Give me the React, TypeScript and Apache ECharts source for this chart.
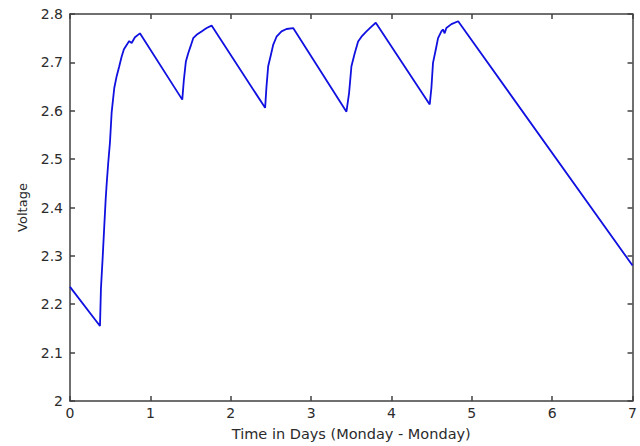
import React, { useEffect, useRef } from "react";
import * as echarts from "echarts";

const days = [
  0, 0.373, 0.385, 0.407, 0.427, 0.444, 0.456, 0.476, 0.497, 0.518, 0.538, 0.551, 0.58, 0.613, 0.643, 0.671,
  0.705, 0.737, 0.767, 0.808, 0.87,
  1.397, 1.417, 1.442, 1.471, 1.5, 1.533, 1.575, 1.637, 1.7, 1.762,
  2.428, 2.445, 2.466, 2.495, 2.528, 2.57, 2.632, 2.694, 2.777,
  3.44, 3.473, 3.502, 3.543, 3.585, 3.627, 3.689, 3.751, 3.805,
  4.476, 4.497, 4.517, 4.551, 4.58, 4.621, 4.641, 4.662, 4.683, 4.746, 4.83,
  7,
];
const volts = [
  2.236, 2.155, 2.232, 2.298, 2.363, 2.417, 2.448, 2.493, 2.534, 2.596, 2.627, 2.647, 2.671, 2.692, 2.712, 2.727,
  2.736, 2.744, 2.74, 2.752, 2.76,
  2.623, 2.664, 2.702, 2.719, 2.733, 2.75, 2.757, 2.764, 2.771, 2.776,
  2.606, 2.65, 2.692, 2.712, 2.736, 2.753, 2.764, 2.769, 2.771,
  2.598, 2.637, 2.692, 2.719, 2.743, 2.753, 2.764, 2.774, 2.782,
  2.613, 2.647, 2.699, 2.726, 2.75, 2.764, 2.768, 2.76, 2.771, 2.779, 2.785,
  2.28,
];
const xTitle = "Time in Days (Monday - Monday)";
const yTitle = "Voltage";

const FONT = "'DejaVu Sans', Verdana, sans-serif";
const AX = "#404040";
const TXT = "#2b2b2b";

export default function App() {
  const ref = useRef<HTMLDivElement>(null);
  useEffect(() => {
    if (!ref.current) return;
    const chart = echarts.init(ref.current, null, { renderer: "svg" });
    const data = days.map((d, i) => [d, volts[i]]);
    const fmt = (v: number) => String(Math.round(v * 10) / 10);
    const baseX = {
      type: "value" as const,
      min: 0,
      max: 7,
      interval: 1,
      axisLine: { show: true, onZero: false, lineStyle: { color: AX, width: 1.5 } },
      axisTick: { show: true, inside: true, length: 5, lineStyle: { color: AX, width: 1.5 } },
      splitLine: { show: false },
    };
    const baseY = {
      type: "value" as const,
      min: 2,
      max: 2.8,
      interval: 0.1,
      axisLine: { show: true, onZero: false, lineStyle: { color: AX, width: 1.5 } },
      axisTick: { show: true, inside: true, length: 5, lineStyle: { color: AX, width: 1.5 } },
      splitLine: { show: false },
    };
    chart.setOption({
      animation: false,
      backgroundColor: "#ffffff",
      grid: { left: 70, right: 7, top: 14, bottom: 43, containLabel: false },
      xAxis: [
        {
          ...baseX,
          position: "bottom",
          name: xTitle,
          nameLocation: "middle",
          nameGap: 25,
          nameTextStyle: { color: TXT, fontFamily: FONT, fontSize: 14.5 },
          axisLabel: { color: TXT, fontFamily: FONT, fontSize: 14, margin: 5, formatter: fmt },
        },
        { ...baseX, position: "top", axisLabel: { show: false } },
      ],
      yAxis: [
        {
          ...baseY,
          position: "left",
          name: yTitle,
          nameLocation: "middle",
          nameGap: 41,
          nameRotate: 90,
          nameTextStyle: { color: TXT, fontFamily: FONT, fontSize: 13 },
          axisLabel: { color: TXT, fontFamily: FONT, fontSize: 14, margin: 7, formatter: fmt },
        },
        { ...baseY, position: "right", axisLabel: { show: false } },
      ],
      series: [
        {
          type: "line",
          data,
          xAxisIndex: 0,
          yAxisIndex: 0,
          showSymbol: false,
          symbol: "none",
          lineStyle: { color: "#1010e0", width: 1.8 },
        },
      ],
    });
    return () => chart.dispose();
  }, []);
  return (
    <div
      ref={ref}
      style={{ position: "fixed", left: 0, top: 0, width: 640, height: 446, background: "#fff" }}
    />
  );
}
